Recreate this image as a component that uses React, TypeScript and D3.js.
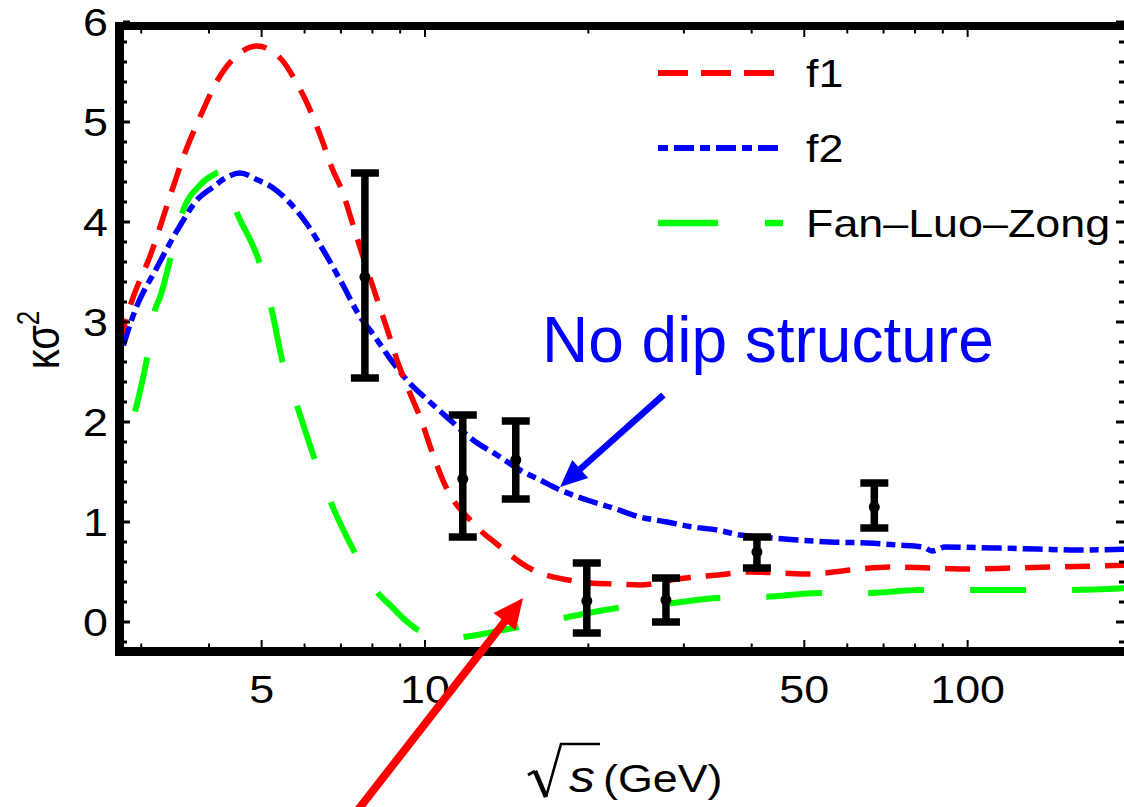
import React from 'react';
import * as d3 from 'd3';

const WIDTH = 1124;
const HEIGHT = 807;

// Model curves: collision energy √s (GeV) and κσ²
const f1Energy = [2.73, 2.9, 3.11, 3.42, 3.61, 3.85, 4.15, 4.56, 4.9, 5.45, 5.76, 6.06, 6.46, 6.74, 7.06, 7.34, 7.65, 8.09, 8.55, 8.92, 9.38, 9.87, 10.26, 10.93, 12.21, 13.63, 15.68, 18.35, 20.14, 22.39, 24.91, 29.14, 34.68, 39.72, 45.11, 51.24, 60.74, 71.97, 85.27, 101.9, 121.3, 144.3, 171.8, 200];
const f1Kappa = [2.79, 3.25, 3.65, 4.32, 4.69, 5.05, 5.42, 5.69, 5.76, 5.62, 5.42, 5.19, 4.82, 4.54, 4.29, 4.0, 3.69, 3.29, 2.9, 2.59, 2.29, 2.0, 1.73, 1.35, 1.0, 0.77, 0.53, 0.42, 0.39, 0.38, 0.37, 0.43, 0.47, 0.5, 0.49, 0.48, 0.52, 0.55, 0.54, 0.53, 0.54, 0.55, 0.56, 0.57];

const f2Energy = [2.73, 2.92, 3.21, 3.39, 3.57, 3.8, 4.07, 4.32, 4.56, 4.92, 5.25, 5.64, 6.06, 6.46, 7.06, 7.52, 8.09, 8.66, 9.26, 10.21, 11.12, 12.26, 13.57, 14.96, 16.29, 17.74, 19.89, 22.21, 24.91, 27.93, 31.19, 34.53, 38.07, 43.79, 48.49, 55.79, 65.27, 74.13, 82.79, 86.0, 90.89, 112.4, 134.3, 159.1, 200];
const f2Kappa = [2.62, 3.11, 3.55, 3.79, 4.0, 4.22, 4.35, 4.45, 4.49, 4.42, 4.34, 4.19, 3.98, 3.74, 3.37, 3.09, 2.85, 2.62, 2.42, 2.2, 2.02, 1.82, 1.67, 1.52, 1.42, 1.32, 1.22, 1.14, 1.05, 1.0, 0.95, 0.92, 0.87, 0.84, 0.82, 0.8, 0.79, 0.77, 0.75, 0.71, 0.75, 0.74, 0.73, 0.72, 0.73];

const flzEnergy = [2.73, 2.92, 3.07, 3.18, 3.25, 3.39, 3.57, 3.85, 4.07, 4.19, 4.52, 4.97, 5.22, 5.47, 5.83, 6.27, 6.74, 7.43, 8.19, 8.62, 9.19, 9.71, 10.52, 11.21, 11.75, 14.84, 17.96, 22.59, 28.53, 34.68, 42.33, 53.46, 65.27, 81.74, 99.8, 126.0, 152.5, 200];
const flzKappa = [1.62, 2.1, 2.62, 3.12, 3.25, 3.62, 4.09, 4.37, 4.47, 4.5, 4.07, 3.57, 3.12, 2.59, 2.14, 1.62, 1.17, 0.69, 0.29, 0.17, 0.02, -0.08, -0.14, -0.16, -0.15, -0.05, 0.04, 0.14, 0.19, 0.24, 0.25, 0.29, 0.29, 0.32, 0.32, 0.32, 0.32, 0.34];

// Measured points with error bars
const dataEnergy = [7.75, 11.74, 14.7, 19.87, 27.8, 40.9, 67.3];
const dataKappa = [3.45, 1.43, 1.62, 0.21, 0.22, 0.7, 1.15];
const dataLow = [2.44, 0.85, 1.23, -0.11, 0.0, 0.54, 0.94];
const dataHigh = [4.49, 2.07, 2.01, 0.59, 0.44, 0.85, 1.39];

// Axis ticks
const xMajorTicks = [5, 10, 50, 100];
const xMinorTicks = [3, 4, 6, 7, 8, 9, 20, 30, 40, 60, 70, 80, 90, 200];
const yMajorTicks = [0, 1, 2, 3, 4, 5, 6];
const yMinorTicks = [-0.2, 0.2, 0.4, 0.6, 0.8, 1.2, 1.4, 1.6, 1.8, 2.2, 2.4, 2.6, 2.8, 3.2, 3.4, 3.6, 3.8, 4.2, 4.4, 4.6, 4.8, 5.2, 5.4, 5.6, 5.8];

const legendLabels = ['f1', 'f2', 'Fan\u2013Luo\u2013Zong'];

const FONT = "'Liberation Sans', Arial, Helvetica, sans-serif";
const SX = 1.18; // horizontal stretch of the plot's lettering

const left = 119;
const right = 1131;
const top = 26;
const bottom = 651.5;

const x = d3.scaleLog().domain([2.73, 200]).range([left, right]);
const y = d3.scaleLinear().domain([-0.295, 5.96]).range([bottom, top]);

const line = d3
  .line<[number, number]>()
  .x((d) => x(d[0]))
  .y((d) => y(d[1]))
  .curve(d3.curveMonotoneX);

const zip = (a: number[], b: number[]): [number, number][] => a.map((v, i) => [v, b[i]]);

const curves = [
  { key: 'flz', pts: zip(flzEnergy, flzKappa), color: '#00ff00', width: 6, dash: '56 46', offset: 51 },
  { key: 'f2', pts: zip(f2Energy, f2Kappa), color: '#0000ff', width: 5.5, dash: '9 6 20 6', offset: 0 },
  { key: 'f1', pts: zip(f1Energy, f1Kappa), color: '#ff0000', width: 5.5, dash: '25 15', offset: 0 },
];

const legendItems = [
  { color: '#ff0000', dash: '30 13', width: 6, x2: 774 },
  { color: '#0000ff', dash: '10 6 20 6', width: 6, x2: 778 },
  { color: '#00ff00', dash: '60 47', width: 6.5, x2: 783 },
];

function Arrow({ x1, y1, x2, y2, color, width, headLen, headHalf }: any) {
  const dx = x2 - x1;
  const dy = y2 - y1;
  const len = Math.hypot(dx, dy);
  const ux = dx / len;
  const uy = dy / len;
  const bx = x2 - ux * headLen;
  const by = y2 - uy * headLen;
  const px = -uy * headHalf;
  const py = ux * headHalf;
  return (
    <g>
      <line x1={x1} y1={y1} x2={bx + ux * 2} y2={by + uy * 2} stroke={color} strokeWidth={width} />
      <polygon points={`${x2},${y2} ${bx + px},${by + py} ${bx - px},${by - py}`} fill={color} />
    </g>
  );
}

// radical sign of the x-axis title, drawn as strokes with its bar over the "s"
function Radical({ x0, base }: { x0: number; base: number }) {
  return (
    <g stroke="#000" fill="none" strokeLinejoin="miter" strokeLinecap="butt">
      <path d={`M${x0},${base - 18} L${x0 + 7},${base - 22}`} strokeWidth={3} />
      <path d={`M${x0 + 7},${base - 22} L${x0 + 18},${base + 4}`} strokeWidth={4.5} />
      <path d={`M${x0 + 18},${base + 4} L${x0 + 33},${base - 49} L${x0 + 72},${base - 49}`} strokeWidth={2.6} />
    </g>
  );
}

export default function App() {
  const capHalf = 14;
  return (
    <div style={{ position: 'absolute', left: 0, top: 0, width: WIDTH, height: HEIGHT, background: '#fff' }}>
      <svg width={WIDTH} height={HEIGHT} viewBox={`0 0 ${WIDTH} ${HEIGHT}`} style={{ display: 'block' }}>
        <defs>
          <clipPath id="plotArea">
            <rect x={left} y={top} width={right - left} height={bottom - top} />
          </clipPath>
        </defs>
        <rect x={0} y={0} width={WIDTH} height={HEIGHT} fill="#fff" />

        {/* model curves */}
        <g clipPath="url(#plotArea)" fill="none">
          {curves.map((c) => (
            <path
              key={c.key}
              d={line(c.pts) || ''}
              stroke={c.color}
              strokeWidth={c.width}
              strokeDasharray={c.dash}
              strokeDashoffset={c.offset}
            />
          ))}
        </g>

        {/* measurements */}
        <g stroke="#000" strokeWidth={7.5}>
          {dataEnergy.map((e, i) => {
            const cx = x(e);
            return (
              <g key={i}>
                <line x1={cx} x2={cx} y1={y(dataLow[i])} y2={y(dataHigh[i])} />
                <line x1={cx - capHalf} x2={cx + capHalf} y1={y(dataLow[i])} y2={y(dataLow[i])} />
                <line x1={cx - capHalf} x2={cx + capHalf} y1={y(dataHigh[i])} y2={y(dataHigh[i])} />
                <circle cx={cx} cy={y(dataKappa[i])} r={5.5} fill="#000" stroke="none" />
              </g>
            );
          })}
        </g>

        {/* frame ticks */}
        <g stroke="#000">
          {xMajorTicks.map((t) => (
            <g key={'xM' + t} strokeWidth={2}>
              <line x1={x(t)} x2={x(t)} y1={647} y2={640} />
              <line x1={x(t)} x2={x(t)} y1={30} y2={37} />
            </g>
          ))}
          {xMinorTicks.map((t) => (
            <g key={'xm' + t} strokeWidth={2}>
              <line x1={x(t)} x2={x(t)} y1={647} y2={643.5} />
              <line x1={x(t)} x2={x(t)} y1={30} y2={33.5} />
            </g>
          ))}
          {yMajorTicks.map((t) => (
            <g key={'yM' + t} strokeWidth={3}>
              <line x1={123} x2={130} y1={y(t)} y2={y(t)} />
              <line x1={1127} x2={1116} y1={y(t)} y2={y(t)} />
            </g>
          ))}
          {yMinorTicks.map((t) => (
            <g key={'ym' + t} strokeWidth={3}>
              <line x1={123} x2={127} y1={y(t)} y2={y(t)} />
              <line x1={1127} x2={1119} y1={y(t)} y2={y(t)} />
            </g>
          ))}
        </g>

        {/* frame */}
        <g stroke="#000" fill="none">
          <line x1={115} x2={1140} y1={26} y2={26} strokeWidth={8} />
          <line x1={115} x2={1140} y1={651.5} y2={651.5} strokeWidth={9} />
          <line x1={119.5} x2={119.5} y1={22} y2={656} strokeWidth={9} />
          <line x1={1131} x2={1131} y1={22} y2={656} strokeWidth={8} />
        </g>

        {/* tick labels */}
        <g fontFamily={FONT} fontSize={38} fill="#000">
          {yMajorTicks.map((t) => (
            <text key={'yl' + t} transform={`translate(108,${y(t) + 14}) scale(${SX},1)`} textAnchor="end">
              {t}
            </text>
          ))}
          {xMajorTicks.map((t) => (
            <text key={'xl' + t} transform={`translate(${x(t)},703) scale(${SX},1)`} textAnchor="middle">
              {t}
            </text>
          ))}
        </g>

        {/* axis titles */}
        <text
          transform={`translate(59,340) scale(${SX},1) rotate(-90)`}
          textAnchor="middle"
          fontFamily={FONT}
          fontSize={40}
          fill="#000"
        >
          κσ<tspan fontSize={26} dy={-17}>2</tspan>
        </text>
        <Radical x0={528} base={793} />
        <g fill="#000" fontFamily={FONT}>
          <text transform={`translate(569,792) scale(${SX},1)`} fontSize={44} fontStyle="italic">
            s
          </text>
          <text transform={`translate(603,792) scale(${SX},1)`} fontSize={38}>
            (GeV)
          </text>
        </g>

        {/* legend */}
        <g>
          {legendItems.map((it, i) => {
            const ly = 73 + i * 75;
            return (
              <g key={'lg' + i}>
                <line x1={658} x2={it.x2} y1={ly} y2={ly} stroke={it.color} strokeWidth={it.width} strokeDasharray={it.dash} />
                <text transform={`translate(806,${ly + 14}) scale(${SX},1)`} fontFamily={FONT} fontSize={38} fill="#000">
                  {legendLabels[i]}
                </text>
              </g>
            );
          })}
        </g>

        {/* annotations */}
        <text x={x(16.43)} y={y(2.6)} fontFamily={FONT} fontSize={64} fill="#0000ff">
          No dip structure
        </text>
        <Arrow x1={x(27.5)} y1={y(2.27)} x2={x(17.74)} y2={y(1.35)} color="#0000ff" width={6.5} headLen={27} headHalf={12} />
        <Arrow x1={x(7.35)} y1={y(-1.95)} x2={x(15.16)} y2={y(0.24)} color="#ff0000" width={8} headLen={30} headHalf={14} />
      </svg>
    </div>
  );
}
